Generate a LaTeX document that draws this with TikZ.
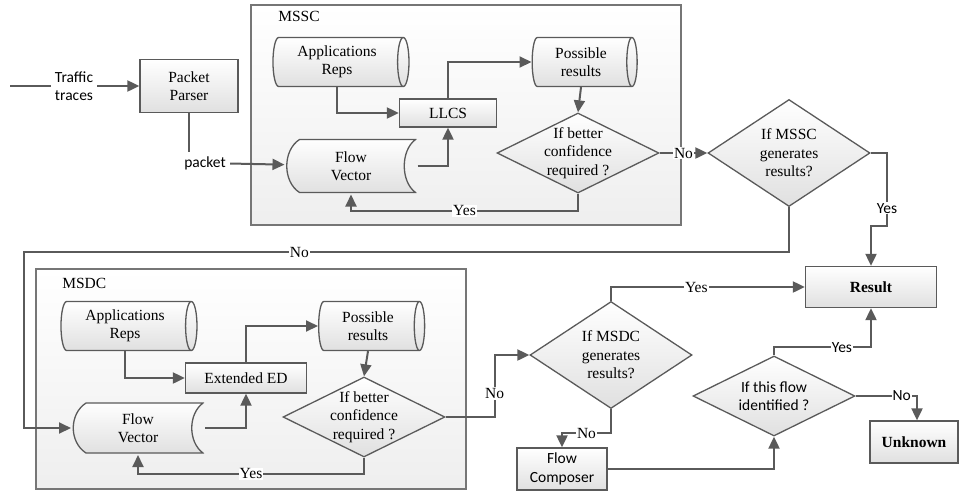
\documentclass[tikz,border=0pt]{standalone}
\usepackage{fontspec}
\setmainfont{Liberation Serif}
\newfontfamily\serifface{Liberation Serif}
\newfontfamily\calibriface{Carlito}
\usetikzlibrary{arrows.meta,shapes.geometric,positioning,calc}
\definecolor{linegray}{RGB}{90,90,90}
\definecolor{framegray}{RGB}{118,118,118}
\definecolor{shadegray}{RGB}{224,224,224}

\begin{document}
\begin{tikzpicture}[x=1pt,y=-1pt,->,>={Triangle[length=12pt,width=11pt]},
    line width=2pt,color=linegray,
    every node/.style={text=black,font=\serifface\fontsize{15.5}{18.5}\selectfont,align=center},
    frame/.style={-,draw=framegray,line width=1.6pt,top color=white,bottom color=gray!13},
    proc node/.style={rectangle,draw=linegray,line width=1.3pt,top color=white,bottom color=shadegray,inner sep=1pt},
    store node/.style={cylinder,aspect=0.33,draw=linegray,line width=1.3pt,top color=white,bottom color=shadegray,inner sep=1pt},
    flow node/.style={rectangle,inner sep=1pt,path picture={
        \path[-,draw=linegray,line width=1.3pt,top color=white,bottom color=shadegray]
          let \p1=(path picture bounding box.south west),\p2=(path picture bounding box.north east) in
          (\x1+14pt,\y2-1pt) -- (\x2-1pt,\y2-1pt)
          .. controls (\x2-16pt,\y2-12pt) and (\x2-16pt,\y1+12pt) .. (\x2-1pt,\y1+1pt)
          -- (\x1+14pt,\y1+1pt)
          .. controls (\x1-3pt,\y1+12pt) and (\x1-3pt,\y2-12pt) .. (\x1+14pt,\y2-1pt) -- cycle;}},
    dec node/.style={diamond,draw=linegray,line width=1.3pt,top color=white,bottom color=shadegray,inner sep=-3pt,minimum width=162pt},
    lbl/.style={fill=white,inner sep=1pt},
    sans/.style={font=\calibriface\fontsize{15.5}{18.5}\selectfont},
    bold/.style={font=\serifface\fontsize{15.5}{18.5}\selectfont\bfseries}]

    \useasboundingbox (0,0) rectangle (960,496);

    % the two classifier frames
    \draw[frame] (251,5) rectangle (681,225);
    \draw[frame] (36,269) rectangle (466,489);
    \node[anchor=west] (mssc) at (274,16) {MSSC};
    \node[anchor=west] (msdc) at (58,283) {MSDC};

    % input
    \coordinate (src) at (10,86);
    \node[sans] (traffic) at (74,86) {Traffic\\traces};
    \node[proc node,minimum width=98pt,minimum height=53pt] (pp) at (189,86) {Packet\\Parser};
    \node[sans] (pkt) at (205,163) {packet};

    % MSSC
    \node[store node,minimum width=49pt,minimum height=136pt] (ar1) at (337,62) {Applications\\Reps};
    \node[proc node,minimum width=97pt,minimum height=28pt] (llcs) at (448,113) {LLCS};
    \node[flow node,minimum width=131pt,minimum height=55pt] (fv1) at (351,166) {Flow\\Vector};
    \node[store node,minimum width=49pt,minimum height=105pt] (pr1) at (581,62) {Possible\\results};
    \node[dec node,aspect=2,minimum height=80pt] (d1) at (578,153) {If better\\confidence\\required ?};
    \node[dec node,aspect=1.5,minimum height=107pt] (d2) at (789,153) {If MSSC\\generates\\results?};

    % MSDC
    \node[store node,minimum width=49pt,minimum height=136pt] (ar2) at (125,326) {Applications\\Reps};
    \node[proc node,minimum width=121pt,minimum height=30pt] (ext) at (246,378) {Extended ED};
    \node[flow node,minimum width=132pt,minimum height=52pt] (fv2) at (138,428) {Flow\\Vector};
    \node[store node,minimum width=49pt,minimum height=106pt] (pr2) at (368,326) {Possible\\results};
    \node[dec node,aspect=2,minimum height=80pt] (d3) at (364,417) {If better\\confidence\\required ?};
    \node[dec node,aspect=1.5,minimum height=107pt] (d4) at (611,355) {If MSDC\\generates\\results?};

    % outcome
    \node[proc node,bold,minimum width=131pt,minimum height=41pt] (res) at (871,287) {Result};
    \node[proc node,sans,minimum width=90pt,minimum height=42pt] (fc) at (562,469) {Flow\\Composer};
    \node[dec node,sans,aspect=2,minimum height=80pt] (d5) at (774,396) {If this flow\\identified ?};
    \node[proc node,bold,minimum width=88pt,minimum height=42pt] (unk) at (914,442) {Unknown};

    % connectors
    \draw[-] (src) -- (traffic);
    \draw (traffic) -- (pp);
    \draw[-] (pp.south) -- (pp.south |- pkt.north);
    \draw (pkt) -- (fv1);

    \draw (ar1.south) |- (llcs.west);
    \draw (fv1.east) -| (llcs.south);
    \draw (llcs.north) |- (pr1.west);
    \draw (pr1.south) -- (d1.north);
    \draw (d1.south) -- ++(0,17) -| node[lbl,pos=0.25] {Yes} (fv1.south);
    \draw (d1.east) -- node[lbl,pos=0.5] {No} (d2.west);
    \draw (d2.east) -| node[lbl,sans,pos=0.88] {Yes} ($(res.north)+(16,-40)$) -| (res.north);

    \coordinate (nocorner) at (24,252);
    \draw (d2.south) |- node[lbl,pos=0.82] {No} (nocorner) |- (fv2.west);

    \draw (ar2.south) |- (ext.west);
    \draw (fv2.east) -| (ext.south);
    \draw (ext.north) |- (pr2.west);
    \draw (pr2.south) -- (d3.north);
    \draw (d3.south) -- ++(0,16) -| node[lbl,pos=0.25] {Yes} (fv2.south);
    \draw (d3.east) -- ++(49,0) |- node[lbl,pos=0.19] {No} (d4.west);

    \draw (d4.north) |- node[lbl,pos=0.72] {Yes} (res.west);
    \draw (d4.south) -- ++(0,24) -| node[lbl,pos=0.25] {No} (fc.north);
    \draw (fc.east) -| (d5.south);
    \draw (d5.north) -- ++(0,-8) -| node[lbl,sans,pos=0.35] {Yes} (res.south);
    \draw (d5.east) -| node[lbl,sans,pos=0.375] {No} ([xshift=3pt]unk.north);
\end{tikzpicture}
\end{document}
